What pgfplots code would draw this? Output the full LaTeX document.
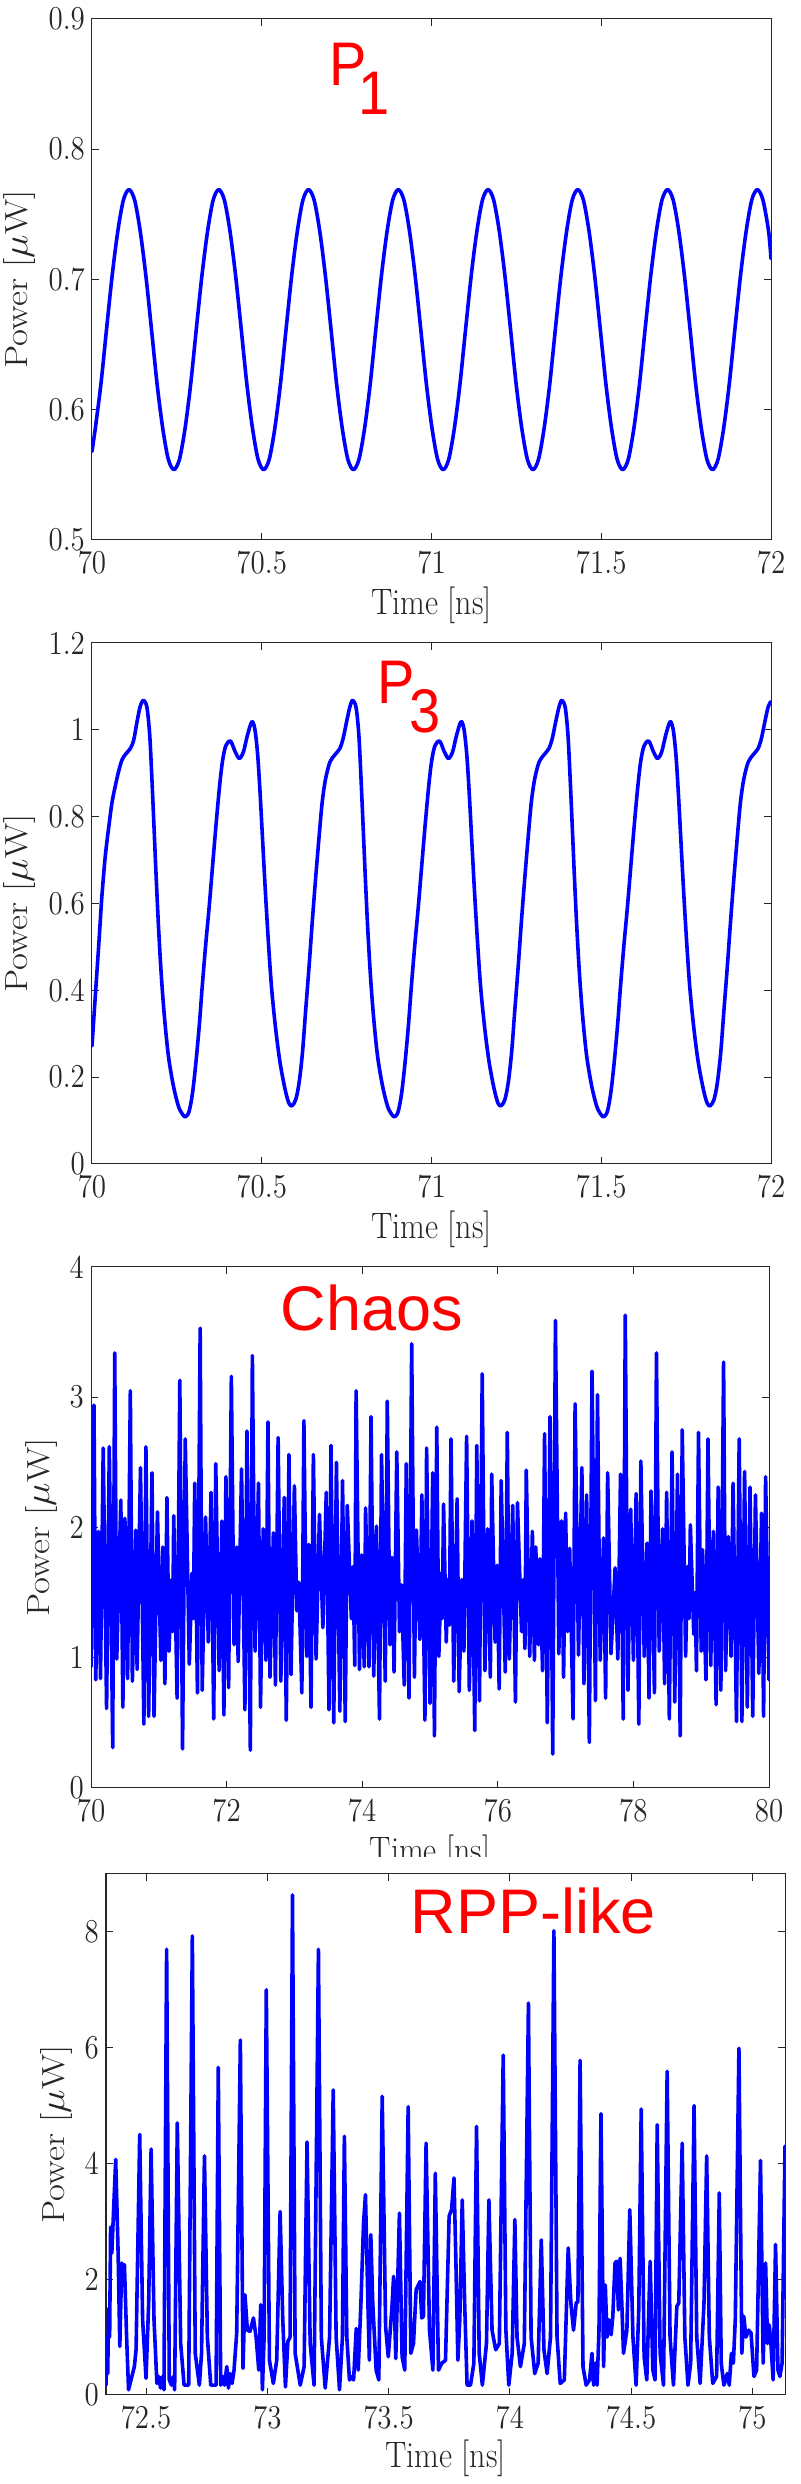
\documentclass[border=0pt]{standalone}
\usepackage{fontspec}
\usepackage{pgfplots}
\pgfplotsset{compat=1.18}
\newfontfamily\arialfont{Liberation Sans}
\definecolor{axgray}{rgb}{0.15,0.15,0.15}
\definecolor{mblue}{rgb}{0,0,1}
\pgfplotsset{
  panel/.style={
    scale only axis, anchor=south west,
    width=339.5pt, height=260.5pt,
    axis line style={axgray, line width=0.5pt},
    every tick/.style={axgray, line width=0.5pt},
    major tick length=3.5pt, tick align=inside,
    tick label style={font=\fontsize{14.5}{16}\selectfont, text=axgray},
    xticklabel style={yshift=-2.1pt},
    xticklabel={\scalebox{1}[1.15]{\pgfmathprintnumber{\tick}}},
    yticklabel={\scalebox{1}[1.15]{\pgfmathprintnumber{\tick}}},
    label style={font=\fontsize{16}{18}\selectfont, text=axgray},
    /pgf/number format/assume math mode=true,
    xlabel={\scalebox{1}[1.15]{Time [ns]}}, ylabel={\scalebox{1.15}[1]{Power [$\mu$W]}},
  },
}
\tikzset{
  trace/.style={mblue, line width=1.8pt, line join=round, line cap=round},
  ttl/.style={anchor=north west, inner sep=0pt, text=red, font=\arialfont\fontsize{28}{30}\selectfont},
}
\begin{document}
\begin{tikzpicture}
\path[use as bounding box] (0,0) rectangle (400pt,1242pt);
% ---------------- Panel 1 : P1
\begin{axis}[panel, at={(46pt,972pt)},
  xmin=70, xmax=72, ymin=0.5, ymax=0.9,
  xtick={70,70.5,71,71.5,72}, ytick={0.5,0.6,0.7,0.8,0.9},
  xlabel style={at={(axis description cs:0.5,-0.125)}, anchor=center},
  ylabel style={at={(axis description cs:-0.1068,0.5)}, anchor=center}]
\addplot[trace, smooth, no markers] coordinates {
(70.0000,0.568) (70.0099,0.586) (70.0264,0.620) (70.0429,0.662) (70.0594,0.703) (70.0760,0.737) (70.0925,0.761)
(70.1090,0.769) (70.1255,0.761) (70.1421,0.737) (70.1586,0.703) (70.1751,0.662) (70.1916,0.620) (70.2082,0.586) (70.2247,0.562)
(70.2412,0.554) (70.2577,0.562) (70.2743,0.586) (70.2908,0.620) (70.3073,0.662) (70.3238,0.703) (70.3404,0.737) (70.3569,0.761)
(70.3734,0.769) (70.3899,0.761) (70.4065,0.737) (70.4230,0.703) (70.4395,0.662) (70.4560,0.620) (70.4726,0.586) (70.4891,0.562)
(70.5056,0.554) (70.5221,0.562) (70.5387,0.586) (70.5552,0.620) (70.5717,0.662) (70.5882,0.703) (70.6048,0.737) (70.6213,0.761)
(70.6378,0.769) (70.6543,0.761) (70.6709,0.737) (70.6874,0.703) (70.7039,0.662) (70.7204,0.620) (70.7370,0.586) (70.7535,0.562)
(70.7700,0.554) (70.7865,0.562) (70.8031,0.586) (70.8196,0.620) (70.8361,0.662) (70.8526,0.703) (70.8692,0.737) (70.8857,0.761)
(70.9022,0.769) (70.9187,0.761) (70.9353,0.737) (70.9518,0.703) (70.9683,0.662) (70.9848,0.620) (71.0014,0.586) (71.0179,0.562)
(71.0344,0.554) (71.0509,0.562) (71.0675,0.586) (71.0840,0.620) (71.1005,0.662) (71.1170,0.703) (71.1336,0.737) (71.1501,0.761)
(71.1666,0.769) (71.1831,0.761) (71.1997,0.737) (71.2162,0.703) (71.2327,0.662) (71.2492,0.620) (71.2658,0.586) (71.2823,0.562)
(71.2988,0.554) (71.3153,0.562) (71.3319,0.586) (71.3484,0.620) (71.3649,0.662) (71.3814,0.703) (71.3980,0.737) (71.4145,0.761)
(71.4310,0.769) (71.4475,0.761) (71.4641,0.737) (71.4806,0.703) (71.4971,0.662) (71.5136,0.620) (71.5302,0.586) (71.5467,0.562)
(71.5632,0.554) (71.5797,0.562) (71.5963,0.586) (71.6128,0.620) (71.6293,0.662) (71.6458,0.703) (71.6624,0.737) (71.6789,0.761)
(71.6954,0.769) (71.7119,0.761) (71.7285,0.737) (71.7450,0.703) (71.7615,0.662) (71.7780,0.620) (71.7946,0.586) (71.8111,0.562)
(71.8276,0.554) (71.8441,0.562) (71.8607,0.586) (71.8772,0.620) (71.8937,0.662) (71.9102,0.703) (71.9268,0.737) (71.9433,0.761)
(71.9598,0.769) (71.9763,0.761) (71.9929,0.737) (72.0000,0.716)
};
\node[ttl] at (axis description cs:0.349,0.954) {\scalebox{1}[1.1]{P\kern-4pt\raisebox{-13pt}{1}}};
\end{axis}
% ---------------- Panel 2 : P3
\begin{axis}[panel, at={(46pt,660pt)},
  xmin=70, xmax=72, ymin=0, ymax=1.2,
  xtick={70,70.5,71,71.5,72}, ytick={0,0.2,0.4,0.6,0.8,1,1.2},
  xlabel style={at={(axis description cs:0.5,-0.125)}, anchor=center},
  ylabel style={at={(axis description cs:-0.1068,0.5)}, anchor=center}]
\addplot[trace, smooth, no markers] coordinates {
(70.000,0.272) (70.010,0.390) (70.020,0.506) (70.029,0.615) (70.039,0.708) (70.049,0.774) (70.059,0.833) (70.069,0.872)
(70.078,0.903) (70.088,0.930) (70.098,0.943) (70.113,0.957) (70.123,0.977) (70.132,1.016) (70.142,1.054)
(70.152,1.068) (70.162,1.051) (70.170,0.988) (70.176,0.895) (70.183,0.770) (70.189,0.661) (70.196,0.545) (70.204,0.436)
(70.213,0.342) (70.225,0.249) (70.240,0.179) (70.255,0.132) (70.268,0.113) (70.276,0.109) (70.286,0.121) (70.296,0.163)
(70.306,0.233) (70.316,0.319) (70.325,0.412) (70.335,0.506) (70.345,0.591) (70.355,0.685) (70.365,0.778) (70.375,0.864)
(70.384,0.926) (70.394,0.963) (70.408,0.974) (70.422,0.949) (70.434,0.934) (70.446,0.949) (70.458,0.988) (70.471,1.019)
(70.480,1.000) (70.488,0.942) (70.495,0.856) (70.503,0.739) (70.511,0.623) (70.520,0.506) (70.529,0.405) (70.541,0.311)
(70.554,0.233) (70.569,0.171) (70.580,0.140) (70.589,0.134) (70.600,0.148) (70.610,0.187) (70.620,0.257) (70.629,0.350)
(70.639,0.451) (70.649,0.560) (70.659,0.661) (70.669,0.755) (70.678,0.833) (70.688,0.887) (70.701,0.926) (70.716,0.943)
(70.730,0.957) (70.740,0.981) (70.750,1.019) (70.760,1.054)
(70.768,1.068) (70.778,1.051) (70.786,0.988) (70.792,0.895) (70.799,0.770) (70.805,0.661) (70.812,0.545) (70.820,0.436)
(70.829,0.342) (70.841,0.249) (70.856,0.179) (70.871,0.132) (70.884,0.113) (70.892,0.109) (70.902,0.121) (70.912,0.163)
(70.922,0.233) (70.932,0.319) (70.941,0.412) (70.951,0.506) (70.961,0.591) (70.971,0.685) (70.981,0.778) (70.991,0.864)
(71.000,0.926) (71.010,0.963) (71.024,0.974) (71.038,0.949) (71.050,0.934) (71.062,0.949) (71.074,0.988) (71.087,1.019)
(71.096,1.000) (71.104,0.942) (71.111,0.856) (71.119,0.739) (71.127,0.623) (71.136,0.506) (71.145,0.405) (71.157,0.311)
(71.170,0.233) (71.185,0.171) (71.196,0.140) (71.205,0.134) (71.216,0.148) (71.226,0.187) (71.236,0.257) (71.245,0.350)
(71.255,0.451) (71.265,0.560) (71.275,0.661) (71.285,0.755) (71.294,0.833) (71.304,0.887) (71.317,0.926) (71.332,0.943)
(71.346,0.957) (71.356,0.981) (71.366,1.019) (71.376,1.054)
(71.384,1.068) (71.394,1.051) (71.402,0.988) (71.408,0.895) (71.415,0.770) (71.421,0.661) (71.428,0.545) (71.436,0.436)
(71.445,0.342) (71.457,0.249) (71.472,0.179) (71.487,0.132) (71.500,0.113) (71.508,0.109) (71.518,0.121) (71.528,0.163)
(71.538,0.233) (71.548,0.319) (71.557,0.412) (71.567,0.506) (71.577,0.591) (71.587,0.685) (71.597,0.778) (71.607,0.864)
(71.616,0.926) (71.626,0.963) (71.640,0.974) (71.654,0.949) (71.666,0.934) (71.678,0.949) (71.690,0.988) (71.703,1.019)
(71.712,1.000) (71.720,0.942) (71.727,0.856) (71.735,0.739) (71.743,0.623) (71.752,0.506) (71.761,0.405) (71.773,0.311)
(71.786,0.233) (71.801,0.171) (71.812,0.140) (71.821,0.134) (71.832,0.148) (71.842,0.187) (71.852,0.257) (71.861,0.350)
(71.871,0.451) (71.881,0.560) (71.891,0.661) (71.901,0.755) (71.910,0.833) (71.920,0.887) (71.933,0.926) (71.948,0.943)
(71.962,0.957) (71.972,0.981) (71.982,1.019) (71.992,1.054) (72.000,1.065)
};
\node[ttl] at (axis description cs:0.420,0.965) {\scalebox{1}[1.1]{P\kern-2.5pt\raisebox{-13pt}{3}}};
\end{axis}
% ---------------- Panel 3 : Chaos
\begin{axis}[panel, at={(45.5pt,348pt)}, width=339pt,
  xmin=70, xmax=80, ymin=0, ymax=4,
  xtick={70,72,74,76,78,80}, ytick={0,1,2,3,4},
  xlabel style={at={(axis description cs:0.5,-0.125)}, anchor=center},
  ylabel style={at={(axis description cs:-0.0737,0.5)}, anchor=center}]
\addplot[trace, no markers] coordinates {
(70.000,0.93) (70.044,2.94) (70.070,0.83) (70.110,1.97) (70.140,0.84) (70.180,2.61) (70.230,0.61) (70.270,2.62)
(70.320,0.31) (70.350,3.34) (70.380,0.99) (70.440,2.21) (70.470,0.62) (70.500,2.07) (70.540,0.84) (70.580,3.05)
(70.610,0.82) (70.660,1.98) (70.680,0.91) (70.730,2.46) (70.780,0.49) (70.810,2.62) (70.850,0.55) (70.900,2.42)
(70.930,0.55) (70.980,2.12) (71.030,0.98) (71.060,1.85) (71.090,0.80) (71.120,2.23) (71.150,1.05) (71.190,1.60)
(71.205,1.20) (71.220,2.09) (71.270,0.69) (71.310,3.13) (71.350,0.30) (71.390,2.68) (71.450,0.95) (71.490,1.65)
(71.510,1.30) (71.530,2.34) (71.570,0.73) (71.610,3.53) (71.640,0.75) (71.690,2.08) (71.730,1.12) (71.770,2.27)
(71.810,0.53) (71.840,2.49) (71.890,0.90) (71.930,2.05) (71.960,0.56) (71.990,2.39) (72.030,0.77) (72.070,3.16)
(72.110,1.10) (72.150,1.85) (72.170,0.97) (72.220,2.45) (72.270,0.60) (72.300,2.74) (72.350,0.29) (72.380,3.32)
(72.420,1.05) (72.470,2.34) (72.500,0.62) (72.540,1.99) (72.580,0.98) (72.610,2.81) (72.640,0.85) (72.690,1.96)
(72.720,0.79) (72.760,2.69) (72.800,0.82) (72.850,2.23) (72.880,0.52) (72.920,2.56) (72.950,0.87) (73.000,2.32)
(73.035,1.36) (73.065,1.58) (73.110,0.73) (73.140,2.82) (73.180,1.01) (73.210,1.87) (73.245,0.62) (73.280,2.56)
(73.320,0.99) (73.370,2.10) (73.420,1.23) (73.470,2.27) (73.510,0.60) (73.540,2.63) (73.580,0.50) (73.620,2.50)
(73.670,0.59) (73.710,2.36) (73.750,0.51) (73.780,2.17) (73.840,1.30) (73.865,1.70) (73.890,0.94) (73.910,3.05)
(73.960,0.91) (73.990,1.79) (74.030,0.93) (74.050,2.15) (74.100,0.93) (74.130,2.85) (74.170,0.86) (74.210,2.01)
(74.255,0.53) (74.285,2.56) (74.340,0.82) (74.370,2.97) (74.410,1.10) (74.440,1.77) (74.470,0.89) (74.510,2.58)
(74.550,1.20) (74.580,1.56) (74.620,0.79) (74.650,2.49) (74.690,0.69) (74.730,3.41) (74.770,0.85) (74.800,1.98)
(74.850,1.14) (74.880,2.25) (74.925,0.52) (74.950,2.61) (75.000,0.65) (75.040,2.42) (75.065,0.40) (75.100,2.77)
(75.130,1.01) (75.165,1.65) (75.180,1.30) (75.200,2.18) (75.240,1.12) (75.260,1.60) (75.285,1.25) (75.310,2.68)
(75.350,0.82) (75.400,2.22) (75.430,0.74) (75.470,1.60) (75.500,1.05) (75.540,2.70) (75.580,0.75) (75.620,2.05)
(75.660,0.44) (75.690,2.63) (75.730,0.67) (75.770,3.18) (75.810,0.90) (75.850,1.99) (75.890,0.85) (75.910,2.41)
(75.960,1.12) (75.990,1.71) (76.020,0.76) (76.050,2.36) (76.110,0.89) (76.140,2.73) (76.170,0.99) (76.220,2.17)
(76.260,0.66) (76.290,2.19) (76.350,1.20) (76.375,1.60) (76.400,1.07) (76.420,2.44) (76.470,1.01) (76.510,1.97)
(76.540,0.98) (76.560,1.85) (76.600,1.10) (76.620,1.76) (76.660,0.90) (76.690,2.72) (76.730,0.50) (76.770,2.85)
(76.810,0.26) (76.850,3.59) (76.900,1.03) (76.940,2.05) (76.970,0.85) (77.000,2.11) (77.030,1.20) (77.060,1.84)
(77.110,0.53) (77.140,2.95) (77.190,1.02) (77.240,2.46) (77.270,0.80) (77.310,2.25) (77.350,0.35) (77.390,3.20)
(77.440,0.67) (77.470,3.02) (77.510,0.98) (77.560,1.92) (77.590,0.69) (77.620,2.42) (77.670,1.03) (77.730,1.69)
(77.770,0.99) (77.810,2.41) (77.850,0.53) (77.880,3.63) (77.920,0.75) (77.960,2.14) (78.000,0.98) (78.040,2.26)
(78.080,0.49) (78.110,2.51) (78.160,1.01) (78.200,1.88) (78.230,0.69) (78.260,2.28) (78.310,0.73) (78.340,3.34)
(78.380,1.05) (78.430,1.99) (78.460,0.80) (78.490,2.27) (78.530,0.53) (78.570,2.58) (78.610,0.66) (78.650,2.41)
(78.690,0.40) (78.720,2.75) (78.770,1.01) (78.800,1.70) (78.820,1.30) (78.840,2.02) (78.890,1.18) (78.910,1.50)
(78.930,0.90) (78.960,2.73) (79.000,1.05) (79.020,1.83) (79.070,0.83) (79.100,2.68) (79.140,0.94) (79.180,1.97)
(79.220,0.64) (79.250,2.31) (79.290,0.75) (79.330,3.27) (79.360,0.90) (79.400,1.93) (79.440,1.01) (79.470,2.34)
(79.520,0.51) (79.560,2.68) (79.600,0.51) (79.640,2.43) (79.680,0.62) (79.720,2.31) (79.760,0.55) (79.800,2.25)
(79.850,0.88) (79.890,2.11) (79.920,0.55) (79.950,2.39) (80.000,0.83)
};
\node[ttl, font=\arialfont\fontsize{31.5}{33}\selectfont] at (axis description cs:0.279,0.967) {Chaos};
\end{axis}
% cut of the lower label, as in the reference
\fill[white] (0,0) rectangle (400pt,313.5pt);
% ---------------- Panel 4 : RPP-like
\begin{axis}[panel, at={(53pt,44.5pt)},
  xmin=72.335, xmax=75.135, ymin=0, ymax=9,
  xtick={72.5,73,73.5,74,74.5,75}, ytick={0,2,4,6,8},
  xlabel style={at={(axis description cs:0.5,-0.121)}, anchor=center},
  ylabel style={at={(axis description cs:-0.0736,0.5)}, anchor=center}]
\addplot[trace, no markers] coordinates {
(72.335,0.17) (72.340,1.00) (72.342,0.37) (72.346,1.50) (72.350,1.00) (72.354,2.90) (72.359,2.45) (72.375,4.07)
(72.385,2.45) (72.392,0.84) (72.400,2.28) (72.405,2.16) (72.411,2.25) (72.420,1.00) (72.428,0.09) (72.438,0.26)
(72.452,0.49) (72.459,0.78) (72.474,4.50) (72.486,1.30) (72.500,0.29) (72.511,1.59) (72.521,4.25) (72.533,1.30)
(72.545,0.20) (72.552,0.32) (72.560,0.12) (72.568,0.32) (72.574,0.09) (72.585,7.70) (72.596,0.26) (72.605,0.17)
(72.613,0.32) (72.618,0.09) (72.629,4.70) (72.643,0.89) (72.657,0.17) (72.676,0.17) (72.691,7.93) (72.703,0.72)
(72.720,0.17) (72.729,0.72) (72.741,4.13) (72.753,1.00) (72.767,0.17) (72.789,0.17) (72.798,5.66) (72.808,0.17)
(72.816,0.32) (72.824,0.17) (72.833,0.49) (72.840,0.12) (72.847,0.37) (72.855,0.20) (72.863,0.43) (72.874,1.07)
(72.889,6.13) (72.900,0.46) (72.908,1.73) (72.918,1.12) (72.929,1.10) (72.943,1.33) (72.954,1.00) (72.965,0.43)
(72.973,1.56) (72.980,0.09) (72.987,1.00) (72.996,7.00) (73.009,0.60) (73.025,0.20) (73.039,0.60) (73.053,3.17)
(73.064,1.30) (73.075,0.14) (73.085,0.92) (73.094,1.00) (73.104,8.64) (73.115,0.72) (73.136,0.17) (73.152,0.49)
(73.164,4.37) (73.177,0.89) (73.193,0.17) (73.211,7.70) (73.223,1.00) (73.239,0.12) (73.257,1.00) (73.272,5.27)
(73.284,1.00) (73.298,0.09) (73.310,1.00) (73.318,4.47) (73.328,1.00) (73.339,0.26) (73.346,0.32) (73.356,0.26)
(73.367,1.15) (73.375,0.43) (73.386,1.56) (73.397,2.97) (73.405,3.46) (73.415,1.59) (73.421,0.60) (73.427,2.77)
(73.435,1.59) (73.449,0.43) (73.460,0.26) (73.474,5.16) (73.488,1.18) (73.499,0.66) (73.514,1.50) (73.521,2.05)
(73.530,0.63) (73.545,3.14) (73.556,0.66) (73.567,0.43) (73.581,4.98) (73.592,0.72) (73.603,0.89) (73.614,1.82)
(73.630,1.96) (73.637,1.33) (73.644,1.36) (73.655,4.35) (73.669,1.12) (73.683,0.43) (73.693,3.83) (73.706,0.43)
(73.720,0.55) (73.735,0.60) (73.750,3.09) (73.760,3.20) (73.770,3.75) (73.778,2.28) (73.786,0.60) (73.794,1.30)
(73.804,3.37) (73.814,1.59) (73.824,0.17) (73.838,0.17) (73.852,0.55) (73.863,4.64) (73.874,0.72) (73.887,0.17)
(73.904,0.89) (73.914,3.37) (73.927,1.12) (73.942,0.78) (73.957,0.89) (73.973,5.87) (73.984,1.12) (73.996,0.17)
(74.010,0.72) (74.021,3.03) (74.030,1.00) (74.044,0.49) (74.060,0.89) (74.077,6.77) (74.088,1.00) (74.103,0.37)
(74.117,0.55) (74.130,2.68) (74.141,0.78) (74.154,0.37) (74.168,1.00) (74.182,8.02) (74.195,1.00) (74.208,0.20)
(74.225,0.26) (74.241,2.54) (74.252,1.59) (74.263,1.12) (74.274,1.59) (74.281,1.61) (74.290,5.78) (74.302,0.49)
(74.315,0.17) (74.329,0.26) (74.339,0.72) (74.346,0.17) (74.353,0.55) (74.360,0.17) (74.368,1.12) (74.376,4.86)
(74.387,0.49) (74.394,1.90) (74.401,1.00) (74.409,1.30) (74.418,1.04) (74.425,1.36) (74.434,2.28) (74.441,2.31)
(74.448,1.47) (74.455,2.36) (74.462,1.59) (74.469,0.72) (74.483,1.12) (74.495,3.20) (74.508,1.00) (74.521,0.17)
(74.532,1.47) (74.542,4.94) (74.554,0.66) (74.565,0.26) (74.579,2.31) (74.590,0.43) (74.599,0.26) (74.608,4.67)
(74.620,0.72) (74.634,0.17) (74.649,5.59) (74.661,1.00) (74.675,0.17) (74.689,1.53) (74.697,1.59) (74.711,4.35)
(74.722,1.00) (74.735,0.17) (74.746,0.55) (74.760,5.00) (74.771,1.00) (74.785,0.20) (74.801,1.59) (74.812,4.13)
(74.823,1.00) (74.837,0.20) (74.853,0.32) (74.864,3.49) (74.872,0.55) (74.883,0.17) (74.897,0.37) (74.905,0.17)
(74.914,0.72) (74.922,0.55) (74.930,1.30) (74.945,5.99) (74.957,0.72) (74.965,1.36) (74.974,1.00) (74.985,1.12)
(74.995,1.07) (75.007,0.32) (75.018,0.43) (75.034,4.05) (75.045,0.55) (75.055,2.28) (75.063,0.89) (75.070,1.21)
(75.077,0.89) (75.086,0.26) (75.096,2.60) (75.106,0.43) (75.114,0.32) (75.123,0.55) (75.135,4.30)
};
\node[ttl, font=\arialfont\fontsize{31.5}{33}\selectfont] at (axis description cs:0.448,0.975) {RPP-like};
\end{axis}
\end{tikzpicture}
\end{document}
